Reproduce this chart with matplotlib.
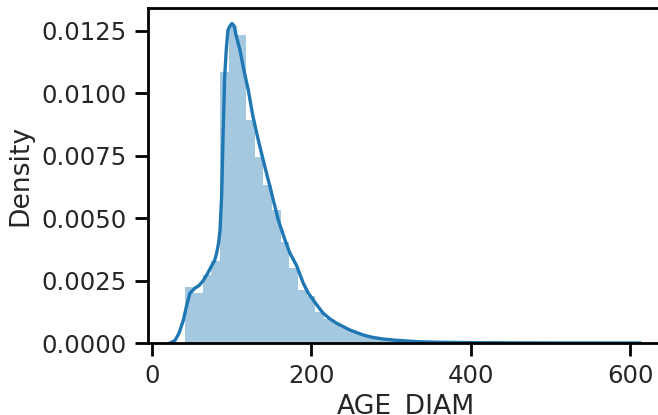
import matplotlib
matplotlib.use("Agg")
import matplotlib.pyplot as plt
import numpy as np

# histogram of AGE_DIAM (50 bins, density)
data_min = 42.0
data_max = 585.0
hist_heights = [
    0.00224, 0.00200, 0.00272, 0.00330, 0.01087, 0.01270, 0.01234, 0.00893, 0.00746, 0.00633,
    0.00533, 0.00406, 0.00300, 0.00212, 0.00190, 0.00125, 0.00095, 0.00080, 0.00060, 0.00045,
    0.00035, 0.00025, 0.00018, 0.00012, 0.00009, 0.00006, 0.00004, 0.00003, 0.00002, 0.00002,
    0.00001, 0.00001, 0.00001, 0.00001, 0.000005, 0.000005, 0.000005, 0.000005, 0.000003, 0.000003,
    0.000002, 0.000002, 0.000002, 0.000002, 0.000002, 0.000001, 0.000001, 0.000001, 0.000001, 0.000001,
]

# kde curve
kde_x = [22.6, 28.8, 34.0, 39.2, 43.5, 47.6, 53.9, 59.0, 64.3, 70.0, 74.9, 78.5, 81.1, 83.5, 85.3,
         87.4, 89.0, 91.2, 93.3, 95.3, 97.8, 100.3, 103.0, 105.7, 110.3, 115.5, 120.8, 126.5,
         133.3, 140.5, 148.0, 158.4, 166.8, 173.0, 181.4, 189.7, 196.0, 202.3, 208.5, 214.8,
         223.0, 231.6, 248.3, 265.0, 277.5, 290.0, 302.6, 320.0, 336.0, 360.0, 386.0, 420.0,
         461.0, 520.0, 570.0, 612.0]
kde_y = [0.0, 0.0001, 0.0004, 0.0009, 0.0015, 0.0020, 0.0022, 0.0023, 0.0025, 0.0028, 0.0031,
         0.0033, 0.0036, 0.0040, 0.0045, 0.0059, 0.0081, 0.0107, 0.0118, 0.01254, 0.0127,
         0.0128, 0.0127, 0.0123, 0.01174, 0.0109, 0.01013, 0.0091, 0.00813, 0.0072, 0.00626,
         0.00493, 0.00413, 0.0036, 0.0031, 0.0024, 0.0020, 0.00172, 0.00145, 0.00119, 0.00097,
         0.00079, 0.00052, 0.00032, 0.00022, 0.00016, 0.00012, 0.00008, 0.00005, 0.00003,
         0.00002, 0.00001, 0.000005, 0.000002, 0.000001, 0.0]

x_label = "AGE_DIAM"
y_label = "Density"

plt.rcParams['font.family'] = ['DejaVu Sans']
text_color = '#262626'

fig = plt.figure(figsize=(6.58, 4.15), dpi=100)
# the right edge of the axes runs past the figure, as in the reference crop
ax = fig.add_axes([148 / 658, 72 / 415, 515 / 658, 335 / 415])

edges = np.linspace(data_min, data_max, len(hist_heights) + 1)
ax.bar(edges[:-1], hist_heights, width=np.diff(edges), align='edge',
       color='#1f77b4', alpha=0.4, linewidth=0)
ax.plot(kde_x, kde_y, color='#1f77b4', linewidth=2.4)

ax.set_xlim(-5, 641)
ax.set_ylim(0, 0.01342)
ax.set_xticks([0, 200, 400, 600])
ax.set_yticks([0, 0.0025, 0.005, 0.0075, 0.01, 0.0125])
ax.set_yticklabels(['0.0000', '0.0025', '0.0050', '0.0075', '0.0100', '0.0125'])

ax.tick_params(labelsize=17.6, width=2.0, length=9.6, pad=5.6,
               colors='black', labelcolor=text_color)
for s in ax.spines.values():
    s.set_linewidth(2.0)
    s.set_color('black')

ax.set_xlabel(x_label, fontsize=19.2, color=text_color, labelpad=4)
ax.set_ylabel(y_label, fontsize=19.2, color=text_color, labelpad=6)

fig.savefig('out.png', dpi=100)
